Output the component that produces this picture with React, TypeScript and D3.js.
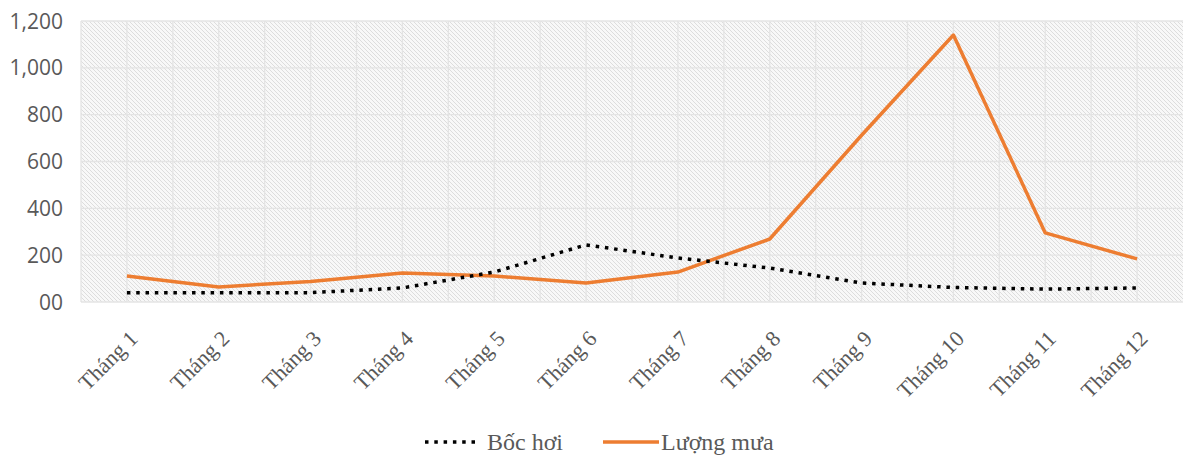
import React from "react";
import * as d3 from "d3";

const months = ["Tháng 1", "Tháng 2", "Tháng 3", "Tháng 4", "Tháng 5", "Tháng 6", "Tháng 7", "Tháng 8", "Tháng 9", "Tháng 10", "Tháng 11", "Tháng 12"];
const bocHoi = [40, 40, 40, 60, 128, 244, 188, 145, 81, 62, 55, 60];
const luongMua = [111, 64, 88, 124, 111, 81, 128, 269, 712, 1140, 295, 184];
const yTicks = [0, 200, 400, 600, 800, 1000, 1200];
const yTickLabels = ["00", "200", "400", "600", "800", "1,000", "1,200"];
const seriesNames = ["Bốc hơi", "Lượng mưa"];

const W = 1183;
const H = 457;
const left = 81;
const right = 1183;
const top = 21;
const bottom = 302;

export default function App() {
  const x = d3.scaleBand<string>().domain(months).range([left, right]).padding(0);
  const y = d3.scaleLinear().domain([0, 1200]).range([bottom, top]);
  const cx = (m: string) => (x(m) as number) + x.bandwidth() / 2;
  const line = d3
    .line<number>()
    .x((_, i) => cx(months[i]))
    .y((d) => y(d));

  const vGrid: number[] = [];
  months.forEach((m) => {
    vGrid.push(x(m) as number);
    vGrid.push(cx(m));
  });

  const grey = "#595959";
  const orange = "#ED7D31";
  const serif = "Liberation Serif, Times New Roman, serif";

  return (
    <svg width={W} height={H} style={{ position: "absolute", left: 0, top: 0, background: "#fff" }}>
      <defs>
        <pattern id="hatch" patternUnits="userSpaceOnUse" width={4} height={4}>
          <rect width={4} height={4} fill="#f8f8f8" />
          <path d="M0,0 L4,4 M-1,3 L1,5 M3,-1 L5,1" stroke="#d6d6d6" strokeWidth={0.8} />
        </pattern>
      </defs>
      <rect x={left} y={top} width={right - left} height={bottom - top} fill="url(#hatch)" />
      {vGrid.map((gx, i) => (
        <line key={"v" + i} x1={gx} x2={gx} y1={top} y2={bottom} stroke="#e4e4e4" strokeWidth={1.3} />
      ))}
      {yTicks.map((t, i) => (
        <line key={"h" + i} x1={left} x2={right} y1={y(t)} y2={y(t)} stroke="#e4e4e4" strokeWidth={1.3} />
      ))}
      {yTicks.map((t, i) => (
        <text
          key={"yl" + i}
          x={63}
          y={y(t)}
          dy="0.36em"
          textAnchor="end"
          fill={grey}
          fontFamily="Open Sans, Noto Sans, sans-serif"
          fontSize={21}
        >
          {yTickLabels[i]}
        </text>
      ))}
      {months.map((m, i) => (
        <text
          key={"xl" + i}
          transform={`translate(${cx(m) + 12},${340}) rotate(-45)`}
          textAnchor="end"
          fill={grey}
          fontFamily={serif}
          fontSize={22}
        >
          {m}
        </text>
      ))}
      <path d={line(luongMua) || ""} fill="none" stroke={orange} strokeWidth={3.5} strokeLinejoin="round" />
      <path d={line(bocHoi) || ""} fill="none" stroke="#000" strokeWidth={3.5} strokeDasharray="3.5 5.8" />
      <g>
        <line x1={425} x2={480} y1={442} y2={442} stroke="#000" strokeWidth={3.5} strokeDasharray="3.5 5.8" />
        <text x={487} y={442} dy="0.33em" fill={grey} fontFamily={serif} fontSize={24}>
          {seriesNames[0]}
        </text>
        <line x1={603} x2={659} y1={442} y2={442} stroke={orange} strokeWidth={3.5} />
        <text x={661} y={442} dy="0.33em" fill={grey} fontFamily={serif} fontSize={24}>
          {seriesNames[1]}
        </text>
      </g>
    </svg>
  );
}
